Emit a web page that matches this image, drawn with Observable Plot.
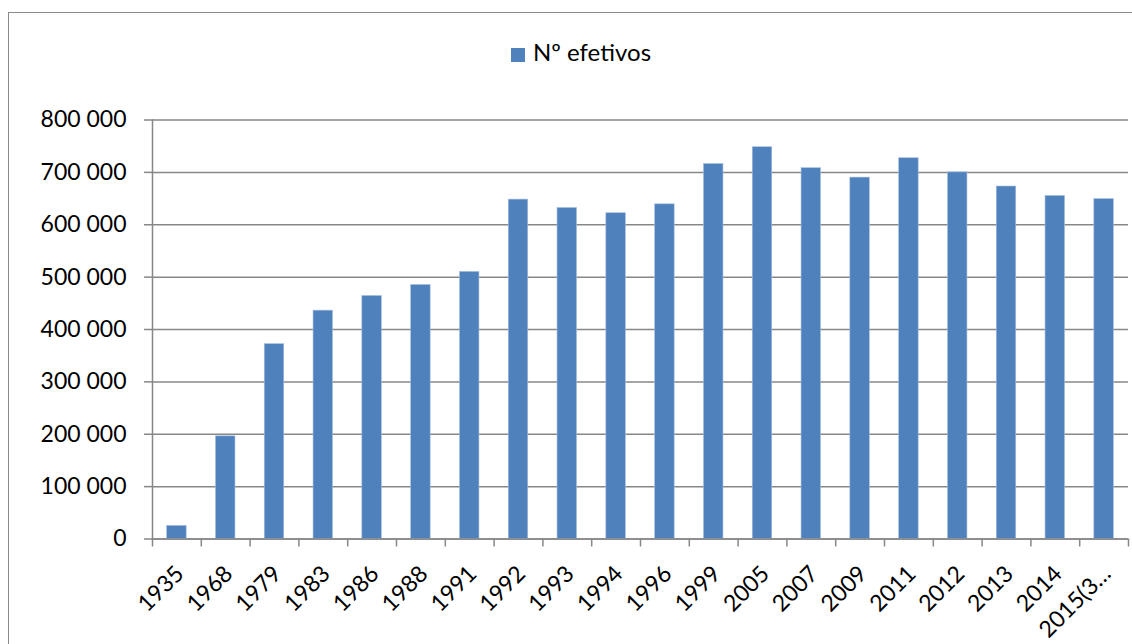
<!DOCTYPE html>
<html>
<head>
<meta charset="utf-8">
<script src="https://cdn.jsdelivr.net/npm/d3@7"></script>
<script src="https://cdn.jsdelivr.net/npm/@observablehq/plot@0.6"></script>
<style>
  html, body { margin: 0; padding: 0; background: #fff; overflow: hidden; }
  body { width: 1132px; height: 644px; position: relative; font-family: Lato, "Liberation Sans", sans-serif; }
  #frame { position: absolute; left: 8px; top: 12px; width: 1140px; height: 700px; border: 1.5px solid #8a8a8a; box-sizing: border-box; }
  #legend { position: absolute; left: 15px; top: 37px; width: 1132px; text-align: center; font-size: 24px; color: #000; }
  #legend .sw { display: inline-block; width: 14px; height: 14px; background: #4f81bd; margin-right: 8px; vertical-align: -1px; }
  #chart { position: absolute; left: 0; top: 84px; }
</style>
</head>
<body>
<div id="frame"></div>
<div id="legend"><span class="sw"></span>Nº efetivos</div>
<div id="chart"></div>
<script>
// Categories (years) and number of staff per year
const years = ["1935", "1968", "1979", "1983", "1986", "1988", "1991", "1992", "1993", "1994",
               "1996", "1999", "2005", "2007", "2009", "2011", "2012", "2013", "2014", "2015(3…"];
const efetivos = [25000, 196000, 372000, 436000, 464000, 485000, 510000, 648000, 632000, 622000,
                  639000, 716000, 748000, 708000, 690000, 727000, 700000, 673000, 655000, 649000];
const yTicks = [0, 100000, 200000, 300000, 400000, 500000, 600000, 700000, 800000];

const data = years.map((ano, i) => ({ano, valor: efetivos[i]}));

const W = 1132, H = 560, ML = 152, MR = 4;
const step = (W - ML - MR) / years.length;
const gray = "#878787";
const fmt = d => d3.format(",")(d).replace(/,/g, " ");

const chart = Plot.plot({
  width: W,
  height: H,
  marginLeft: ML,
  marginRight: MR,
  marginTop: 35.5,
  marginBottom: 105.5,
  style: {fontFamily: "Lato, 'Liberation Sans', sans-serif", fontSize: "23px", color: "#000", background: "transparent"},
  x: {domain: years, paddingInner: 0.6, paddingOuter: 0.3, round: false, label: null},
  y: {domain: [0, 800000], label: null},
  marks: [
    // horizontal gridlines with outward ticks
    Plot.gridY(yTicks, {stroke: gray, strokeOpacity: 1, strokeWidth: 1.5}),
    Plot.axisY({ticks: yTicks, tickFormat: fmt, tickSize: 8, tickPadding: 18, stroke: gray, strokeWidth: 1.5, strokeOpacity: 1, fill: "#000", label: null}),
    Plot.frame({anchor: "left", stroke: gray, strokeWidth: 1.5}),
    // bars
    Plot.barY(data, {x: "ano", y: "valor", fill: "#4f81bd", stroke: "#a9bfe0", strokeWidth: 0.6}),
    Plot.ruleY([0], {stroke: gray, strokeWidth: 1.5}),
    // category boundary ticks
    Plot.axisX({tickFormat: null, tickSize: 8, dx: -step / 2, stroke: gray, strokeWidth: 1.5, label: null}),
    Plot.axisX({ticks: [years[years.length - 1]], tickFormat: null, tickSize: 8, dx: step / 2, stroke: gray, strokeWidth: 1.5, label: null}),
    // rotated category labels
    Plot.axisX({tickSize: 0, tickRotate: -45, textAnchor: "end", tickPadding: 0, dx: 3, dy: 31, fill: "#000", label: null})
  ]
});
document.getElementById("chart").append(chart);
</script>
</body>
</html>
